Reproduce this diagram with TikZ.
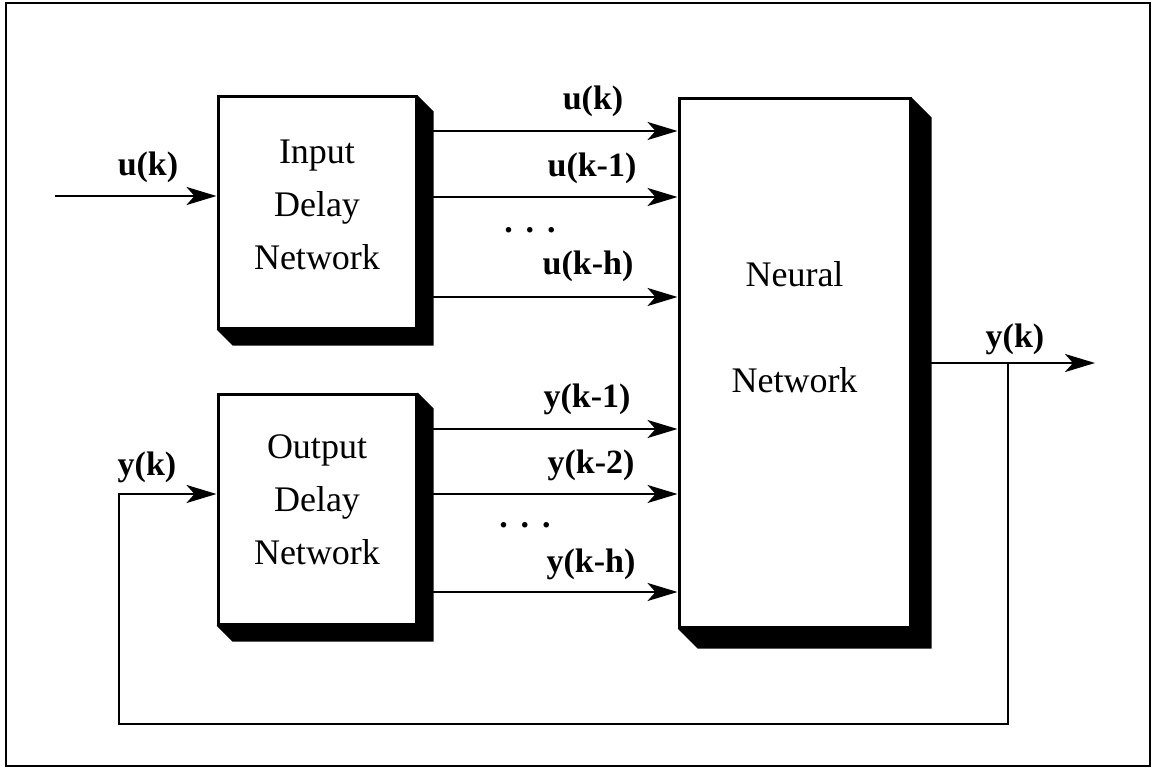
\documentclass[tikz,border=0pt]{standalone}
\usepackage{fontspec}
\setmainfont{Liberation Serif}
\usetikzlibrary{arrows.meta}

\newcommand{\dropshade}[2]{%
\fill (#1.north east) -- ++(#2,#2) -- ([shift={(#2,#2)}]#1.south east)
  -- ([shift={(#2,#2)}]#1.south west) -- (#1.south west) -- (#1.south east) -- cycle;}

\begin{document}
\begin{tikzpicture}[x=0.5pt, y=-0.5pt,
  blk/.style={draw, line width=1.5pt, fill=white, inner sep=0pt},
  boxtext/.style={align=center, font=\fontsize{18}{26.5}\selectfont},
  lbl/.style={anchor=base, font=\fontsize{17}{20}\selectfont\bfseries},
  arr/.style={line width=1.4pt, -{Stealth[length=15pt, width=9pt, inset=4pt]}}]

\useasboundingbox (0,0) rectangle (1156,770);
\draw[line width=1pt] (6,3) rectangle (1150,766);

% blocks
\node[blk, minimum width=99pt, minimum height=115.5pt] (inbox) at (317,212.5) {};
\node[blk, minimum width=99pt, minimum height=115pt] (outbox) at (317,509) {};
\node[blk, minimum width=115.5pt, minimum height=264pt] (nn) at (794.5,363) {};

\dropshade{inbox}{16}
\dropshade{outbox}{16}
\dropshade{nn}{20}

\node[boxtext] (intxt) at (317,205) {Input\\Delay\\Network};
\node[boxtext] (outtxt) at (317,500) {Output\\Delay\\Network};
\node[boxtext] (nntxt) at (794.5,327) {Neural\\[26.5pt]Network};

% inputs
\coordinate (uin) at (55,196);
\draw[arr] (uin) -- (inbox.west |- uin);
\node[lbl] (lbluin) at (148,176) {u(k)};

\foreach \yy in {131,197,297}
  \draw[arr] (inbox.east |- 0,\yy) -- (nn.west |- 0,\yy);
\foreach \yy in {429,494,592}
  \draw[arr] (outbox.east |- 0,\yy) -- (nn.west |- 0,\yy);

\node[lbl] (lbluk) at (593,110) {u(k)};
\node[lbl] (lbluk1) at (592,177) {u(k-1)};
\node[lbl] (udots) at (530,233) {.\hspace{6.5pt}.\hspace{6.5pt}.};
\node[lbl] (lblukh) at (588,275) {u(k-h)};

\node[lbl] (lblyk1) at (587,407) {y(k-1)};
\node[lbl] (lblyk2) at (591,473) {y(k-2)};
\node[lbl] (ydots) at (525,527) {.\hspace{6.5pt}.\hspace{6.5pt}.};
\node[lbl] (lblykh) at (591,572) {y(k-h)};

% output and feedback
\coordinate (yout) at (1095,363);
\coordinate (tap) at (1008,363);
\coordinate (fbl) at (119,724);
\draw[arr] (nn.east |- yout) -- (yout);
\draw[arr] (tap) |- (fbl) |- (outbox.west |- 0,494);
\node[lbl] (lblyout) at (1015,347) {y(k)};
\node[lbl] (lblyin) at (147,475) {y(k)};

\end{tikzpicture}
\end{document}
